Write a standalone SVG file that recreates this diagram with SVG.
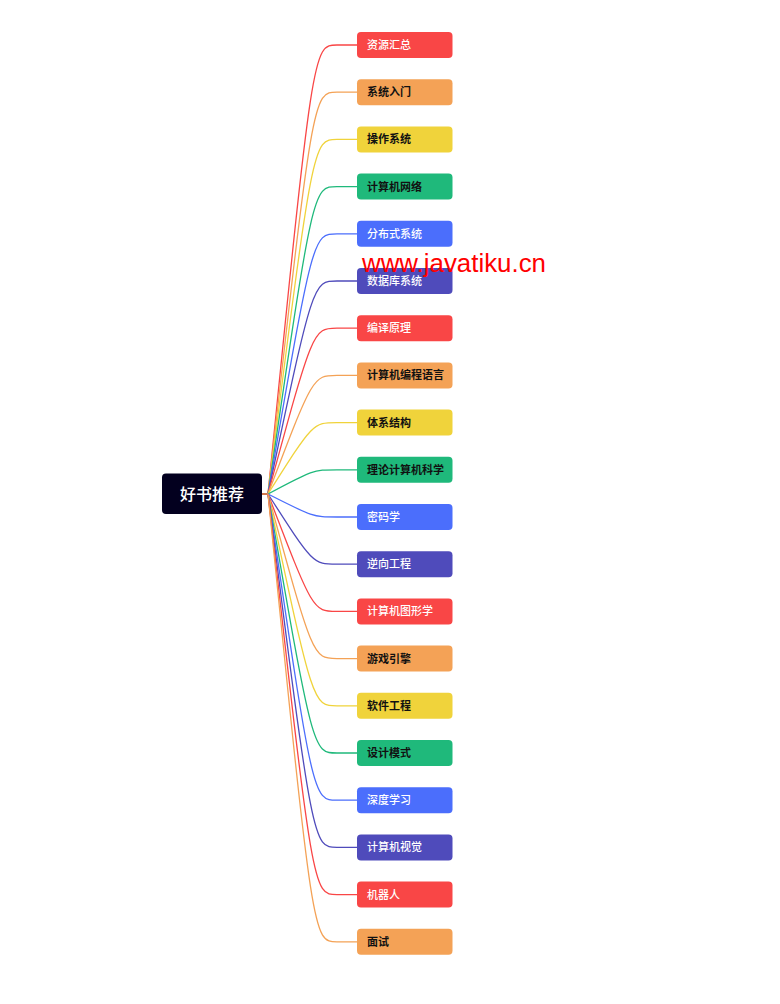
<svg xmlns="http://www.w3.org/2000/svg" width="780" height="1004" viewBox="0 0 780 1004">
<style>
.bg{fill:#ffffff}
.c{fill:none;stroke-width:1.3}
.n{rx:4;ry:4}
.t{font-family:"Noto Sans CJK SC","Noto Sans",sans-serif;font-size:11px}
.w{fill:#ffffff;font-weight:500}
.k{fill:#111111;font-weight:700}
.red{fill:#F94646}.ored{stroke:#F94646}
.org{fill:#F4A256}.oorg{stroke:#F4A256}
.yel{fill:#F0D33B}.oyel{stroke:#F0D33B}
.grn{fill:#1FB97B}.ogrn{stroke:#1FB97B}
.blu{fill:#4B6EFC}.oblu{stroke:#4B6EFC}
.ind{fill:#4F4BBB}.oind{stroke:#4F4BBB}
.root{fill:#03001F}
.rt{font-family:"Noto Sans CJK SC","Noto Sans",sans-serif;font-size:16px;fill:#ffffff;font-weight:500}
.wm{font-family:"Liberation Sans",Arial,sans-serif;font-size:25px;fill:#ff0000}
</style>
<rect class="bg" x="0" y="0" width="780" height="1004"/>
<g id="connectors">
<line x1="262" y1="494" x2="268" y2="494" stroke="#D2784E" stroke-width="2"/>
<path class="c ored" d="M268,494 C313,45 313,45 337,45 L357,45"/>
<path class="c oorg" d="M268,494 C313,92.2 313,92.2 337,92.2 L357,92.2"/>
<path class="c oyel" d="M268,494 C313,139.4 313,139.4 337,139.4 L357,139.4"/>
<path class="c ogrn" d="M268,494 C313,186.6 313,186.6 337,186.6 L357,186.6"/>
<path class="c oblu" d="M268,494 C313,233.8 313,233.8 337,233.8 L357,233.8"/>
<path class="c oind" d="M268,494 C313,281 313,281 337,281 L357,281"/>
<path class="c ored" d="M268,494 C313,328.2 313,328.2 337,328.2 L357,328.2"/>
<path class="c oorg" d="M268,494 C313,375.4 313,375.4 337,375.4 L357,375.4"/>
<path class="c oyel" d="M268,494 C313,422.6 313,422.6 337,422.6 L357,422.6"/>
<path class="c ogrn" d="M268,494 C313,469.8 313,469.8 337,469.8 L357,469.8"/>
<path class="c oblu" d="M268,494 C313,517 313,517 337,517 L357,517"/>
<path class="c oind" d="M268,494 C313,564.2 313,564.2 337,564.2 L357,564.2"/>
<path class="c ored" d="M268,494 C313,611.4 313,611.4 337,611.4 L357,611.4"/>
<path class="c oorg" d="M268,494 C313,658.6 313,658.6 337,658.6 L357,658.6"/>
<path class="c oyel" d="M268,494 C313,705.8 313,705.8 337,705.8 L357,705.8"/>
<path class="c ogrn" d="M268,494 C313,753 313,753 337,753 L357,753"/>
<path class="c oblu" d="M268,494 C313,800.2 313,800.2 337,800.2 L357,800.2"/>
<path class="c oind" d="M268,494 C313,847.4 313,847.4 337,847.4 L357,847.4"/>
<path class="c ored" d="M268,494 C313,894.6 313,894.6 337,894.6 L357,894.6"/>
<path class="c oorg" d="M268,494 C313,941.8 313,941.8 337,941.8 L357,941.8"/>
</g>
<g id="root"><rect class="root" x="162" y="473.5" width="100" height="40.5" rx="4"/><text class="rt" x="212" y="500" text-anchor="middle">好书推荐</text></g>
<g id="n0"><rect class="red" x="357" y="32" width="95.5" height="26" rx="4"/><text class="t w" x="367" y="49">资源汇总</text></g>
<g id="n1"><rect class="org" x="357" y="79.2" width="95.5" height="26" rx="4"/><text class="t k" x="367" y="96.2">系统入门</text></g>
<g id="n2"><rect class="yel" x="357" y="126.4" width="95.5" height="26" rx="4"/><text class="t k" x="367" y="143.4">操作系统</text></g>
<g id="n3"><rect class="grn" x="357" y="173.6" width="95.5" height="26" rx="4"/><text class="t k" x="367" y="190.6">计算机网络</text></g>
<g id="n4"><rect class="blu" x="357" y="220.8" width="95.5" height="26" rx="4"/><text class="t w" x="367" y="237.8">分布式系统</text></g>
<g id="n5"><rect class="ind" x="357" y="268" width="95.5" height="26" rx="4"/><text class="t w" x="367" y="285">数据库系统</text></g>
<g id="n6"><rect class="red" x="357" y="315.2" width="95.5" height="26" rx="4"/><text class="t w" x="367" y="332.2">编译原理</text></g>
<g id="n7"><rect class="org" x="357" y="362.4" width="95.5" height="26" rx="4"/><text class="t k" x="367" y="379.4">计算机编程语言</text></g>
<g id="n8"><rect class="yel" x="357" y="409.6" width="95.5" height="26" rx="4"/><text class="t k" x="367" y="426.6">体系结构</text></g>
<g id="n9"><rect class="grn" x="357" y="456.8" width="95.5" height="26" rx="4"/><text class="t k" x="367" y="473.8">理论计算机科学</text></g>
<g id="n10"><rect class="blu" x="357" y="504" width="95.5" height="26" rx="4"/><text class="t w" x="367" y="521">密码学</text></g>
<g id="n11"><rect class="ind" x="357" y="551.2" width="95.5" height="26" rx="4"/><text class="t w" x="367" y="568.2">逆向工程</text></g>
<g id="n12"><rect class="red" x="357" y="598.4" width="95.5" height="26" rx="4"/><text class="t w" x="367" y="615.4">计算机图形学</text></g>
<g id="n13"><rect class="org" x="357" y="645.6" width="95.5" height="26" rx="4"/><text class="t k" x="367" y="662.6">游戏引擎</text></g>
<g id="n14"><rect class="yel" x="357" y="692.8" width="95.5" height="26" rx="4"/><text class="t k" x="367" y="709.8">软件工程</text></g>
<g id="n15"><rect class="grn" x="357" y="740" width="95.5" height="26" rx="4"/><text class="t k" x="367" y="757">设计模式</text></g>
<g id="n16"><rect class="blu" x="357" y="787.2" width="95.5" height="26" rx="4"/><text class="t w" x="367" y="804.2">深度学习</text></g>
<g id="n17"><rect class="ind" x="357" y="834.4" width="95.5" height="26" rx="4"/><text class="t w" x="367" y="851.4">计算机视觉</text></g>
<g id="n18"><rect class="red" x="357" y="881.6" width="95.5" height="26" rx="4"/><text class="t w" x="367" y="898.6">机器人</text></g>
<g id="n19"><rect class="org" x="357" y="928.8" width="95.5" height="26" rx="4"/><text class="t k" x="367" y="945.8">面试</text></g>
<text class="wm" x="362" y="272" textLength="184" lengthAdjust="spacingAndGlyphs">www.javatiku.cn</text>
</svg>
